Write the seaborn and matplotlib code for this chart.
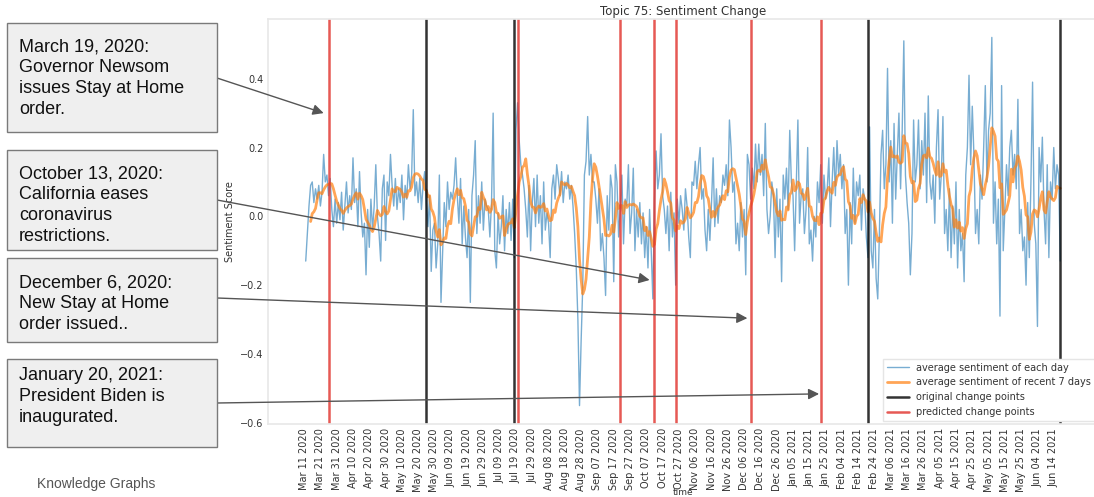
import pandas as pd
import seaborn as sns
import matplotlib.pyplot as plt
import matplotlib.dates as mdates
from matplotlib.patches import Rectangle

# daily average sentiment (starts 2020-03-12, one value per day)
spring_2020 = [-0.13, -0.05, 0.03, 0.09, 0.10, 0.04, 0.08, 0.05, 0.09, 0.03, 0.07, 0.18, 0.10, 0.12,
               0.06, 0.11, 0.02, -0.03, 0.05, -0.02, 0.04,
               -0.01, 0.07, -0.04, 0.03, 0.10, 0.01, 0.06,
               0.02, 0.17, 0.04, 0.08, -0.03, 0.13, 0.01,
               -0.06, -0.02, -0.17, 0.02, -0.09, 0.05, -0.04,
               0.03, 0.15, 0.00, -0.05, -0.13, 0.08, 0.12,
               -0.07, 0.10, 0.06, 0.18, 0.09, 0.03, 0.11,
               0.02, 0.08, 0.04, 0.12, -0.01, 0.09, 0.05,
               0.15, 0.08, 0.12, 0.31, 0.06, 0.10, 0.04,
               0.11, 0.02, 0.09, 0.13, 0.04, -0.03, 0.06,
               -0.16, -0.04, -0.02, -0.15, -0.08, 0.12, -0.25]
summer_2020 = [-0.10, 0.04, -0.03, 0.10, 0.02, 0.07, 0.05,
               0.09, 0.17, 0.06, -0.02, 0.11, -0.08, 0.03,
               -0.06, -0.12, 0.02, -0.25, 0.06, 0.12, 0.22,
               -0.05, 0.06, -0.02, 0.10, -0.04, 0.05, 0.03,
               0.02, -0.06, 0.04, 0.30, -0.10, -0.15, 0.01,
               -0.08, -0.03, 0.06, -0.10, 0.02, -0.05, 0.04,
               -0.07, 0.05, -0.12, 0.25, 0.33, 0.22, 0.15, 0.12, 0.08,
               0.02, -0.06, 0.09, -0.10, 0.04, 0.11, -0.03,
               0.12, -0.02, 0.06, -0.08, 0.10, -0.04, 0.01,
               -0.02, -0.12, 0.08, 0.12, 0.05, 0.15, 0.11,
               0.06, 0.13, 0.04, 0.10, 0.08, 0.12, 0.05,
               0.09, 0.03, -0.05, -0.15, -0.30, -0.55, -0.36, -0.20, 0.12, 0.16, 0.29, 0.12, 0.18, 0.10,
               0.10, 0.05, -0.02, 0.08, -0.10, -0.05, -0.12]
autumn_2020 = [-0.23, 0.06, -0.04, 0.12, 0.08, -0.19, 0.15,
               0.10, -0.06, 0.02, 0.12, -0.08, 0.05, 0.03,
               0.15, -0.05, 0.01, 0.14, -0.10, 0.02, -0.06,
               0.04, -0.08, 0.01, -0.12, -0.03, -0.15, 0.02,
               -0.10, -0.24, 0.05, 0.19, 0.08, 0.12, 0.24, 0.06, 0.02,
               -0.05, 0.03, -0.10, 0.07, -0.06, 0.01, -0.20, 0.05, -0.02,
               0.06, 0.02, -0.04, 0.08, 0.03, -0.06, -0.12, 0.10, 0.09, 0.16, 0.08, 0.15,
               0.20, 0.05, 0.08, -0.04, -0.10, 0.02, -0.07, 0.04, 0.17,
               -0.03, 0.08, -0.02, 0.06, 0.04, 0.12, 0.09, 0.15, 0.06, 0.28, 0.20, 0.07, 0.10,
               -0.08, -0.02, -0.10, 0.04, -0.06, 0.02, -0.17, 0.18, 0.15,
               0.05, 0.14, 0.08, 0.21, 0.10, 0.21, 0.12, 0.18, 0.06, 0.27, 0.02, -0.05,
               0.00, 0.10, 0.06, -0.12, 0.08, -0.06, 0.05, -0.19, 0.12]
winter_2021 = [0.05, 0.14, 0.02, 0.25, 0.10, 0.06, -0.10, 0.09, 0.28, -0.02, 0.06, 0.08,
               -0.05, 0.02, 0.20, -0.08, -0.04, -0.13, 0.00, -0.06,
               0.10, 0.04, 0.15, -0.02, 0.12, 0.05, 0.08, 0.17, -0.03, 0.10, 0.20, 0.06, 0.22, 0.12, 0.18, 0.08, 0.15,
               -0.05, 0.02, -0.20, 0.04, -0.08, 0.14, -0.02, 0.10, 0.06, 0.12, -0.04, 0.08, 0.05,
               -0.06, -0.12, 0.26, -0.10, -0.15, 0.02, -0.18, -0.24, -0.05,
               0.18, 0.25, 0.08, 0.15, 0.43, 0.10, 0.22, -0.02, 0.27, 0.05, 0.18, 0.30, 0.08, 0.25, 0.51,
               0.12, 0.04, -0.02, -0.17, -0.05]
spring_2021 = [0.28, 0.10, 0.15, 0.28, 0.08, 0.22, 0.12, 0.30, 0.04, 0.35, 0.10, 0.05, 0.12, -0.02, 0.20, 0.31, 0.05, 0.12,
               0.29, -0.05, 0.02, -0.10, 0.08, -0.12, 0.03, -0.08, 0.10, -0.15, 0.02, -0.10, -0.05, -0.19, 0.12,
               0.20, 0.41, 0.15, 0.32, 0.18, -0.05, 0.02, -0.08, 0.12, 0.05, 0.20, 0.38, 0.10, 0.25, 0.30,
               0.52, -0.02, 0.10, -0.08, 0.05, -0.29, 0.38, -0.10, 0.02, 0.15, 0.06, 0.20, 0.25, 0.12,
               0.18, 0.08, 0.34, -0.05, 0.02, -0.10, -0.06, -0.20, 0.04, -0.12, 0.10, 0.39, -0.02, -0.08, -0.32,
               0.20, 0.10, 0.23, 0.02, -0.08, 0.15, -0.12, 0.10, 0.05, 0.20, 0.08, 0.15, 0.12, -0.13]

original_cps = ["2020-05-25", "2020-07-18", "2021-02-20", "2021-06-18"]
predicted_cps = ["2020-03-26", "2020-07-20", "2020-09-21", "2020-10-12",
                 "2020-10-25", "2020-12-10", "2021-01-22"]

events = ["March 19, 2020:\nGovernor Newsom\nissues Stay at Home\norder.",
          "October 13, 2020:\nCalifornia eases\ncoronavirus\nrestrictions.",
          "December 6, 2020:\nNew Stay at Home\norder issued..",
          "January 20, 2021:\nPresident Biden is\ninaugurated."]
# where each arrow points (date, sentiment)
event_targets = [("2020-03-23", 0.30), ("2020-10-09", -0.185),
                 ("2020-12-08", -0.296), ("2021-01-21", -0.516)]

sentiment = spring_2020 + summer_2020 + autumn_2020 + winter_2021 + spring_2021
df = pd.DataFrame({"time": pd.date_range("2020-03-12", periods=len(sentiment), freq="D"),
                   "daily": sentiment})
df["weekly"] = df["daily"].rolling(7, min_periods=4).mean()

sns.set_theme(style="white")
plt.rcParams["font.family"] = ["DejaVu Sans"]

W, H = 1094, 497
fig = plt.figure(figsize=(W / 100, H / 100), dpi=100)
ax = fig.add_axes([268 / W, 73 / H, 830 / W, 405 / H])

sns.lineplot(data=df, x="time", y="daily", ax=ax, color="#1f77b4", alpha=0.6, lw=1,
             label="average sentiment of each day")
sns.lineplot(data=df, x="time", y="weekly", ax=ax, color="#ff7f0e", alpha=0.7, lw=2,
             label="average sentiment of recent 7 days")
for i, d in enumerate(original_cps):
    ax.axvline(pd.Timestamp(d), color="black", alpha=0.8, lw=1.8,
               label="original change points" if i == 0 else None)
for i, d in enumerate(predicted_cps):
    ax.axvline(pd.Timestamp(d), color="#e0302a", alpha=0.8, lw=1.8,
               label="predicted change points" if i == 0 else None)

ticks = pd.date_range("2020-03-11", "2021-06-14", freq="10D")
ax.set_xticks(ticks)
ax.xaxis.set_major_formatter(mdates.DateFormatter("%b %d %Y"))
ax.tick_params(axis="x", rotation=90)
ax.tick_params(length=0, pad=3, labelsize=7, labelcolor="#333333")
for s in ax.spines.values():
    s.set_color("#e8e8e8")

ax.set_title("Topic 75: Sentiment Change", fontsize=8.5, color="#333333", pad=3)
ax.set_ylabel("Sentiment Score", fontsize=7, color="#333333")
ax.set_xlabel("time", fontsize=6.5, color="#333333")
ax.xaxis.set_label_coords(0.5, -0.158)

leg = ax.legend(loc="lower right", fontsize=7, frameon=True, framealpha=1,
                edgecolor="#e5e5e5", fancybox=False, handlelength=2.2, borderaxespad=0.3)
for t in leg.get_texts():
    t.set_color("#333333")

# annotation boxes on the left (pixel geometry of the screenshot)
boxes = [(23, 132), (150, 250), (258, 342), (359, 447)]
text_tops = [38, 165, 274, 367]
arrow_starts = [78, 200, 298, 403]
for txt, (top, bot), ty, ay, (td, tv) in zip(events, boxes, text_tops, arrow_starts, event_targets):
    fig.add_artist(Rectangle((7 / W, 1 - bot / H), 210 / W, (bot - top) / H,
                             transform=fig.transFigure, fc="#efefef", ec="#7a7a7a", lw=1))
    fig.text(19 / W, 1 - ty / H, txt, ha="left", va="top", fontsize=13,
             family="Liberation Sans", color="#111111", linespacing=1.32)
    ax.annotate("", xy=(mdates.date2num(pd.Timestamp(td)), tv), xycoords="data",
                xytext=(217 / W, 1 - ay / H), textcoords="figure fraction",
                arrowprops=dict(arrowstyle="-|>", color="#555555", lw=1,
                                mutation_scale=16, shrinkA=0, shrinkB=0),
                annotation_clip=False)

fig.text(37 / W, 1 - 484 / H, "Knowledge Graphs", ha="left", va="center",
         fontsize=10, family="Liberation Sans", color="#555555")

fig.savefig("out.png", dpi=100)
